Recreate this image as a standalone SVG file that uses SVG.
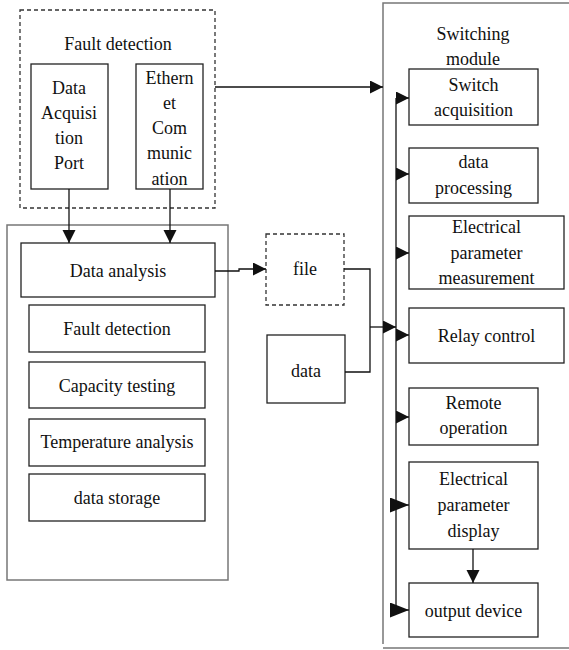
<svg xmlns="http://www.w3.org/2000/svg" width="569" height="650" viewBox="0 0 569 650">
<style>
text{font-family:"Liberation Serif","Times New Roman",serif;font-size:18px;fill:#111;text-anchor:middle}
.box{fill:#fff;stroke:#222;stroke-width:1.3}
.outer{fill:none;stroke:#777;stroke-width:1.5}
.dash{fill:#fff;stroke:#333;stroke-width:1.3;stroke-dasharray:4 3}
.ln{fill:none;stroke:#111;stroke-width:1.3}
</style>
<defs>
<marker id="ah" markerUnits="userSpaceOnUse" markerWidth="14" markerHeight="14" refX="13" refY="6.5" orient="auto">
<path d="M0,0 L13,6.5 L0,13 Z" fill="#111"/>
</marker>
<marker id="ahb" markerUnits="userSpaceOnUse" markerWidth="20" markerHeight="16" refX="19" refY="7.5" orient="auto">
<path d="M0,0 L19,7.5 L0,15 Z" fill="#111"/>
</marker>
</defs>
<rect width="569" height="650" fill="#fff"/>

<g id="switching-module">
<path class="outer" d="M570,3 H383 V644 M383,648 H570"/>
<text x="473" y="40">Switching</text>
<text x="473" y="65">module</text>
</g>

<g id="analysis-group">
<rect class="outer" x="7" y="225" width="221" height="355"/>
</g>

<g id="fault-detection-group">
<rect class="dash" x="20" y="10" width="195" height="198"/>
<text x="118" y="50">Fault detection</text>
</g>

<g id="data-acquisition-port">
<rect class="box" x="31" y="64" width="77" height="125"/>
<text x="69" y="94">Data</text>
<text x="69" y="119">Acquisi</text>
<text x="69" y="144">tion</text>
<text x="69" y="169">Port</text>
</g>

<g id="ethernet-communication">
<rect class="box" x="136" y="64" width="67" height="125"/>
<text x="169.5" y="84">Ethern</text>
<text x="169.5" y="109">et</text>
<text x="169.5" y="134">Com</text>
<text x="169.5" y="159">munic</text>
<text x="169.5" y="185">ation</text>
</g>

<g id="data-analysis">
<rect class="box" x="21" y="243" width="194" height="54"/>
<text x="118" y="277">Data analysis</text>
</g>
<g id="fault-detection">
<rect class="box" x="29" y="305" width="176" height="47"/>
<text x="117" y="335">Fault detection</text>
</g>
<g id="capacity-testing">
<rect class="box" x="29" y="362" width="176" height="46"/>
<text x="117" y="392">Capacity testing</text>
</g>
<g id="temperature-analysis">
<rect class="box" x="29" y="419" width="176" height="47"/>
<text x="117" y="448">Temperature analysis</text>
</g>
<g id="data-storage">
<rect class="box" x="29" y="474" width="176" height="47"/>
<text x="117" y="504">data storage</text>
</g>

<g id="file">
<rect class="dash" x="266" y="234" width="78" height="71"/>
<text x="305" y="275">file</text>
</g>
<g id="data">
<rect class="box" x="267" y="335" width="78" height="68"/>
<text x="306" y="377">data</text>
</g>

<g id="switch-acquisition">
<rect class="box" x="409" y="69" width="129" height="56"/>
<text x="473.5" y="91">Switch</text>
<text x="473.5" y="116">acquisition</text>
</g>
<g id="data-processing">
<rect class="box" x="409" y="148" width="129" height="55"/>
<text x="473.5" y="168">data</text>
<text x="473.5" y="194">processing</text>
</g>
<g id="electrical-parameter-measurement">
<rect class="box" x="409" y="216" width="155" height="73"/>
<text x="486.5" y="233">Electrical</text>
<text x="486.5" y="259">parameter</text>
<text x="486.5" y="284">measurement</text>
</g>
<g id="relay-control">
<rect class="box" x="409" y="308" width="155" height="55"/>
<text x="486.5" y="342">Relay control</text>
</g>
<g id="remote-operation">
<rect class="box" x="409" y="388" width="129" height="57"/>
<text x="473.5" y="409">Remote</text>
<text x="473.5" y="434">operation</text>
</g>
<g id="electrical-parameter-display">
<rect class="box" x="409" y="462" width="129" height="87"/>
<text x="473.5" y="485">Electrical</text>
<text x="473.5" y="511">parameter</text>
<text x="473.5" y="537">display</text>
</g>
<g id="output-device">
<rect class="box" x="409" y="583" width="129" height="54"/>
<text x="473.5" y="617">output device</text>
</g>

<g id="connectors">
<path class="ln" d="M215,87 H383" marker-end="url(#ah)"/>
<path class="ln" d="M69,189 V243" marker-end="url(#ah)"/>
<path class="ln" d="M170,189 V243" marker-end="url(#ah)"/>
<path class="ln" d="M215,271 H239 V269 H266" marker-end="url(#ah)"/>
<path class="ln" d="M344,269 H370 V372 H345"/>
<path class="ln" d="M370,327 H396" marker-end="url(#ah)"/>
<path class="ln" d="M396,98 V610"/>
<path class="ln" d="M396,98 H409" marker-end="url(#ah)"/>
<path class="ln" d="M396,174 H409" marker-end="url(#ah)"/>
<path class="ln" d="M396,253 H409" marker-end="url(#ah)"/>
<path class="ln" d="M396,335 H409" marker-end="url(#ah)"/>
<path class="ln" d="M396,417 H409" marker-end="url(#ah)"/>
<path class="ln" d="M390,505 H409" marker-end="url(#ahb)"/>
<path class="ln" d="M390,610 H409" marker-end="url(#ahb)"/>
<path class="ln" d="M473,549 V583" marker-end="url(#ah)"/>
</g>
</svg>
